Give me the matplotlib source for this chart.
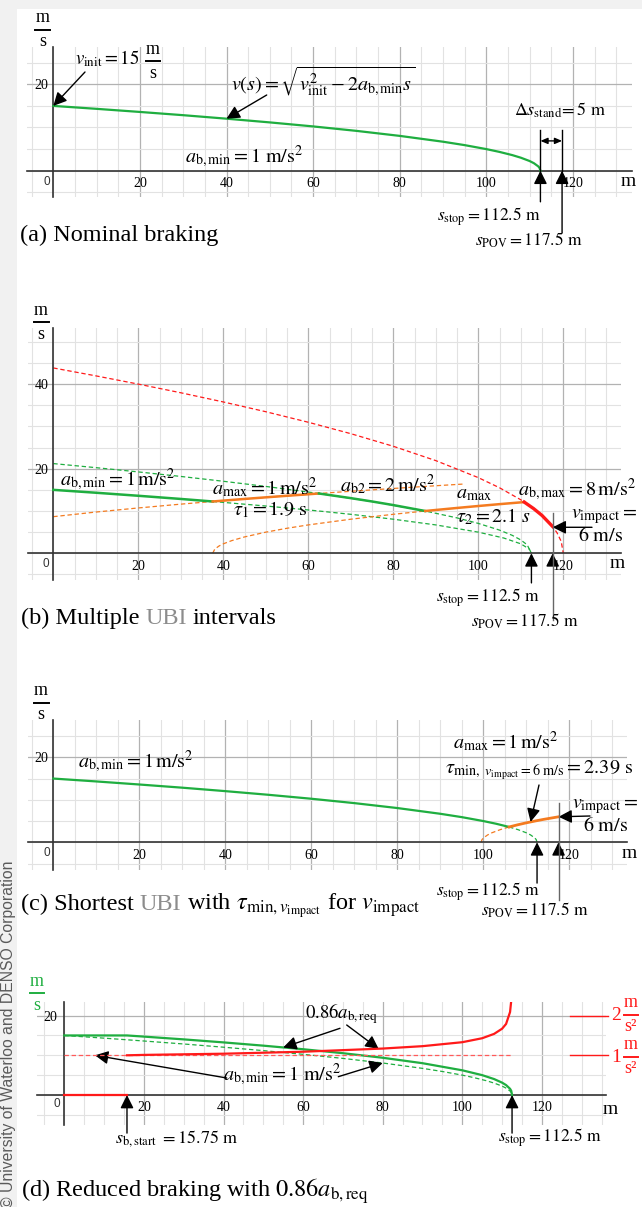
import matplotlib
matplotlib.use('Agg')
import matplotlib.pyplot as plt
from matplotlib.ticker import MultipleLocator
from matplotlib.patches import Rectangle
from matplotlib.lines import Line2D

plt.rcParams['mathtext.fontset'] = 'stix'
plt.rcParams['font.family'] = ['Liberation Serif', 'DejaVu Serif']

# ---------------- data ----------------
x_ticks = [20, 40, 60, 80, 100, 120]
x_tick_labels = ['20', '40', '60', '80', '100', '120']

# (a) nominal braking
a_s = [0, 10, 20, 30, 40, 50, 60, 70, 80, 90, 95, 100, 103, 106, 108, 110, 111, 112, 112.3, 112.5]
a_v = [15.00, 14.32, 13.60, 12.85, 12.04, 11.18, 10.25, 9.22, 8.06, 6.71, 5.92, 5.00, 4.36, 3.61, 3.00, 2.24, 1.73, 1.00, 0.63, 0.00]

# (b) multiple UBI intervals
b_green1_s = [0, 10, 20, 30, 37.5]
b_green1_v = [15.00, 14.32, 13.60, 12.85, 12.25]
b_orange1_s = [37.5, 45, 50, 55, 62.5]
b_orange1_v = [12.25, 12.85, 13.23, 13.60, 14.14]
b_green2_s = [62.5, 70, 75, 80, 87.5]
b_green2_v = [14.14, 13.04, 12.25, 11.40, 10.00]
b_orange2_s = [87.5, 95, 100, 105, 110.8]
b_orange2_v = [10.00, 10.72, 11.18, 11.62, 12.11]
b_red_s = [110.8, 113, 115, 117.5]
b_red_v = [12.11, 10.58, 8.94, 6.32]
b_red_dash_s = [0, 10, 20, 30, 40, 50, 60, 70, 80, 90, 100, 105, 110, 113, 115, 117, 118.5, 119.5, 120]
b_red_dash_v = [43.82, 41.95, 40.00, 37.95, 35.78, 33.47, 30.98, 28.28, 25.30, 21.91, 17.89, 15.49, 12.65, 10.58, 8.94, 6.93, 4.90, 2.83, 0.00]
b_green_dash_hi_s = [0, 10, 20, 30, 40, 50, 62.5, 75, 87.5, 95, 100, 105, 108, 110, 111.5, 112.5]
b_green_dash_hi_v = [21.21, 20.25, 19.24, 18.17, 17.03, 15.81, 14.14, 12.25, 10.00, 8.37, 7.07, 5.48, 4.24, 3.16, 2.00, 0.00]
b_green_dash_lo_s = [37.5, 50, 60, 70, 80, 90, 100, 106, 110, 112, 112.5]
b_green_dash_lo_v = [12.25, 11.18, 10.25, 9.22, 8.06, 6.71, 5.00, 3.61, 2.24, 1.00, 0.00]
b_orange_dash_hi_s = [0, 10, 20, 30, 37.5, 50, 62.5, 70, 80, 90, 96.5]
b_orange_dash_hi_v = [8.66, 9.75, 10.72, 11.62, 12.25, 13.23, 14.14, 14.66, 15.33, 15.97, 16.37]
b_orange_dash_lo_s = [37.5, 38, 39, 40, 42, 45, 50, 55, 60, 70, 80, 87.5]
b_orange_dash_lo_v = [0.00, 1.00, 1.73, 2.24, 3.00, 3.87, 5.00, 5.92, 6.71, 8.06, 9.22, 10.00]

# (c) shortest UBI
c_green_s = [0, 10, 20, 30, 40, 50, 60, 70, 80, 90, 95, 100, 103, 106]
c_green_v = [15.00, 14.32, 13.60, 12.85, 12.04, 11.18, 10.25, 9.22, 8.06, 6.71, 5.92, 5.00, 4.36, 3.61]
c_green_dash_s = [106, 108, 110, 111, 112, 112.3, 112.5]
c_green_dash_v = [3.61, 3.00, 2.24, 1.73, 1.00, 0.63, 0.00]
c_orange_s = [106, 108, 110, 112, 114, 116, 117.5]
c_orange_v = [3.61, 4.12, 4.58, 5.00, 5.39, 5.74, 6.00]
c_orange_dash_s = [99.5, 99.7, 100, 101, 102, 104, 106]
c_orange_dash_v = [0.00, 0.63, 1.00, 1.73, 2.24, 3.00, 3.61]

# (d) reduced braking
d_green_s = [0, 15.75, 20, 30, 40, 50, 60, 70, 80, 90, 100, 105, 108, 110, 111, 112, 112.3, 112.5]
d_green_v = [15.00, 15.00, 14.71, 14.01, 13.25, 12.43, 11.53, 10.53, 9.38, 8.01, 6.22, 5.00, 4.01, 3.11, 2.50, 1.56, 1.05, 0.00]
d_nominal_s = [0, 10, 20, 30, 40, 50, 60, 70, 80, 90, 95, 100, 103, 106, 108, 110, 111, 112, 112.3, 112.5]
d_nominal_v = [15.00, 14.32, 13.60, 12.85, 12.04, 11.18, 10.25, 9.22, 8.06, 6.71, 5.92, 5.00, 4.36, 3.61, 3.00, 2.24, 1.73, 1.00, 0.63, 0.00]
d_decel_pre_s = [0, 15.75]
d_decel_pre_a = [0.0, 0.0]
d_decel_s = [15.75, 20, 40, 60, 80, 90, 100, 105, 108, 110, 111, 112, 112.3, 112.4]
d_decel_a = [1.00, 1.01, 1.04, 1.09, 1.17, 1.23, 1.33, 1.43, 1.54, 1.67, 1.79, 2.09, 2.38, 2.62]
d_amin_s = [0, 112.5]
d_amin_a = [1.0, 1.0]

# ---------------- figure ----------------
W, H = 642, 1207
fig = plt.figure(figsize=(W / 100, H / 100), dpi=100)
fig.patch.set_facecolor('#f1f1f1')
fig.patches.append(Rectangle((16.5 / W, 0), 1 - 16.5 / W, 1 - 9 / H, transform=fig.transFigure,
                             facecolor='white', edgecolor='none', zorder=-5))

GREEN = '#1fae40'
ORANGE = '#f47b20'
RED = '#ff1a1a'
RED_L = '#ff5a5a'
GRAY_T = '#8c8c8c'
SANS = 'Liberation Sans'
MS = 14.5   # math label size
SL = 12.5   # small label size (s_stop, s_POV)
TS = 17.5   # title size
TICK = dict(fontsize=8.5, color='#333333')

ARW = dict(arrowstyle='-|>,head_length=0.5,head_width=0.25', color='black', lw=1.0,
           shrinkA=0, shrinkB=0, mutation_scale=16)


def F(x, y):
    return (x / W, 1 - y / H)


def txt(x, y, s, size=MS, ha='left', va='center', color='black', **kw):
    return fig.text(x / W, 1 - y / H, s, fontsize=size, ha=ha, va=va, color=color, **kw)


def frac(cx, ybar, num, den, width, color='black', size=13):
    """Stacked unit fraction: numerator / bar / denominator, positioned in pixels."""
    txt(cx, ybar - 7.5, num, size=size, ha='center', va='baseline', color=color)
    txt(cx, ybar + 16.5, den, size=size, ha='center', va='baseline', color=color)
    fig.add_artist(Line2D([(cx - width / 2) / W, (cx + width / 2) / W], [1 - ybar / H, 1 - ybar / H],
                          transform=fig.transFigure, color=color, lw=1.4))


def make_axes(x0, y0, sx, sy, xlim, ylim, yticks, ypad, xpad=4.5):
    left = x0 + xlim[0] * sx
    right = x0 + xlim[1] * sx
    top = y0 - ylim[1] * sy
    bottom = y0 - ylim[0] * sy
    ax = fig.add_axes([left / W, 1 - bottom / H, (right - left) / W, (bottom - top) / H])
    ax.set_facecolor('none')
    ax.set_xlim(*xlim)
    ax.set_ylim(*ylim)
    ax.set_xticks(x_ticks)
    ax.set_xticklabels(x_tick_labels)
    ax.set_yticks(yticks)
    ax.set_yticklabels([str(t) for t in yticks])
    for lbl in ax.get_xticklabels() + ax.get_yticklabels():
        lbl.set_fontfamily(SANS)
        lbl.set_fontsize(TICK['fontsize'])
        lbl.set_color(TICK['color'])
    ax.xaxis.set_minor_locator(MultipleLocator(5))
    ax.yaxis.set_minor_locator(MultipleLocator(5))
    ax.grid(which='minor', color='#e2e2e2', lw=0.8)
    ax.grid(which='major', color='#b2b2b2', lw=0.9)
    ax.set_axisbelow(True)
    ax.tick_params(which='both', length=0)
    ax.tick_params(axis='x', pad=xpad)
    ax.tick_params(axis='y', pad=ypad)
    for sp in ['top', 'right']:
        ax.spines[sp].set_visible(False)
    for sp in ['bottom', 'left']:
        ax.spines[sp].set_position(('data', 0))
        ax.spines[sp].set_color('#333333')
        ax.spines[sp].set_linewidth(1.2)
    return ax


def arrow_px(ax, tail_px, tip_data, **kw):
    props = dict(ARW)
    props.update(kw)
    ax.annotate('', xy=tip_data, xycoords='data', xytext=F(*tail_px), textcoords='figure fraction',
                arrowprops=props, annotation_clip=False)


def arrow_data(ax, tail, tip, **kw):
    props = dict(ARW)
    props.update(kw)
    ax.annotate('', xy=tip, xycoords='data', xytext=tail, textcoords='data',
                arrowprops=props, annotation_clip=False)


def chain(ax, x, y, parts, size=TS):
    prev = None
    for s, col in parts:
        if prev is None:
            prev = ax.annotate(s, xy=F(x, y), xycoords='figure fraction', ha='left', va='baseline',
                               fontsize=size, color=col, annotation_clip=False)
        else:
            prev = ax.annotate(s, xy=(1, 1 - y / H), xycoords=(prev, 'figure fraction'),
                               xytext=(4.3, 0), textcoords='offset points', ha='left', va='baseline',
                               fontsize=size, color=col, annotation_clip=False)
    return prev


def zero_label(x, y):
    txt(x, y, '0', size=TICK['fontsize'], ha='center', family=SANS, color=TICK['color'])


DASH = (0, (3.5, 2.2))

# ================= (a) =================
axa = make_axes(53.3, 170.7, 4.33, 4.32, (-6.1, 133.6), (-6.2, 28.7), [20], 3.5)
axa.plot(a_s, a_v, color=GREEN, lw=1.6, zorder=3)
frac(42.5, 30, 'm', 's', 15)
zero_label(46.7, 181.7)
txt(628, 181.5, 'm', size=14, ha='center')
txt(75, 58.5, r'$v_{\mathrm{init}} = 15$', size=13.5)
frac(153, 61, 'm', 's', 14)
arrow_px(axa, (85, 72), (0, 15))
txt(231, 81, r'$v(s) = \sqrt{v_{\mathrm{init}}^2 - 2a_{\mathrm{b,min}}s}$')
arrow_px(axa, (266.7, 95), (40, 12.04))
txt(185, 156.7, r'$a_{\mathrm{b,min}} = 1\ \mathrm{m/s^2}$')
txt(514, 110, r'$\Delta s_{\mathrm{stand}}\!= 5\ \mathrm{m}$', size=13)
arrow_data(axa, (112.5, -7.2), (112.5, 0))
arrow_data(axa, (117.5, -14.4), (117.5, 0))
axa.plot([112.5, 112.5], [0, 9.4], color='black', lw=1.0, clip_on=False, zorder=4)
axa.plot([117.5, 117.5], [0, 9.4], color='black', lw=1.0, clip_on=False, zorder=4)
arrow_data(axa, (112.5, 6.9), (117.5, 6.9),
           arrowstyle='<|-|>,head_length=0.35,head_width=0.15', mutation_scale=12)
txt(437, 216.7, r'$s_{\mathrm{stop}} = 112.5\ \mathrm{m}$', size=SL)
txt(475, 240, r'$s_{\mathrm{POV}} = 117.5\ \mathrm{m}$', size=SL)
chain(axa, 20.5, 240.5, [('(a) Nominal braking', 'black')])

# ================= (b) =================
axb = make_axes(53.3, 553.3, 4.25, 4.23, (-6.0, 133.6), (-6.3, 53.2), [20, 40], 3.5)
axb.plot(b_red_dash_s, b_red_dash_v, color=RED, lw=0.9, ls=DASH, zorder=2)
axb.plot(b_green_dash_hi_s, b_green_dash_hi_v, color=GREEN, lw=0.9, ls=DASH, zorder=2)
axb.plot(b_green_dash_lo_s, b_green_dash_lo_v, color=GREEN, lw=0.9, ls=DASH, zorder=2)
axb.plot(b_orange_dash_hi_s, b_orange_dash_hi_v, color=ORANGE, lw=0.9, ls=DASH, zorder=2)
axb.plot(b_orange_dash_lo_s, b_orange_dash_lo_v, color=ORANGE, lw=0.9, ls=DASH, zorder=2)
axb.plot(b_green1_s, b_green1_v, color=GREEN, lw=1.8, zorder=3)
axb.plot(b_orange1_s, b_orange1_v, color=ORANGE, lw=1.8, zorder=3)
axb.plot(b_green2_s, b_green2_v, color=GREEN, lw=1.8, zorder=3)
axb.plot(b_orange2_s, b_orange2_v, color=ORANGE, lw=1.8, zorder=3)
axb.plot(b_red_s, b_red_v, color=RED, lw=2.4, zorder=3)
frac(41, 322.3, 'm', 's', 15)
zero_label(46, 564)
txt(617, 564, 'm', size=14, ha='center')
txt(60, 480, r'$a_{\mathrm{b,min}} = 1\,\mathrm{m/s^2}$')
txt(212, 488, r'$a_{\max} = 1\,\mathrm{m/s^2}$')
txt(233, 510, r'$\tau_1 = 1.9\ \mathrm{s}$')
txt(340, 485, r'$a_{\mathrm{b2}} = 2\,\mathrm{m/s^2}$')
txt(456, 494, r'$a_{\max}$')
txt(456, 516.7, r'$\tau_2 = 2.1\ s$')
txt(518, 490, r'$a_{\mathrm{b,max}} = 8\,\mathrm{m/s^2}$')
txt(637, 516.7, r'$v_{\mathrm{impact}} =$', ha='right')
txt(623, 536.7, r'$6\ \mathrm{m/s}$', ha='right')
arrow_px(axb, (592, 527.3), (117.5, 6.15))
arrow_data(axb, (112.5, -7.0), (112.5, 0))
axb.plot([117.5, 117.5], [-15.8, 9.5], color='#666666', lw=1.0, clip_on=False, zorder=4)
arrow_data(axb, (117.5, -2.5), (117.5, 0))
txt(436, 598, r'$s_{\mathrm{stop}} = 112.5\ \mathrm{m}$', size=SL)
txt(471, 621.7, r'$s_{\mathrm{POV}} = 117.5\ \mathrm{m}$', size=SL)
chain(axb, 21, 624, [('(b) Multiple', 'black'), ('UBI', GRAY_T), ('intervals', 'black')])

# ================= (c) =================
axc = make_axes(53.3, 842.3, 4.3, 4.25, (-6.0, 133.4), (-6.5, 28.7), [20], 3.5)
axc.plot(c_green_dash_s, c_green_dash_v, color=GREEN, lw=0.9, ls=DASH, zorder=2)
axc.plot(c_orange_dash_s, c_orange_dash_v, color=ORANGE, lw=0.9, ls=DASH, zorder=2)
axc.plot(c_green_s, c_green_v, color=GREEN, lw=1.6, zorder=3)
axc.plot(c_orange_s, c_orange_v, color=ORANGE, lw=2.0, zorder=3)
frac(41, 702.7, 'm', 's', 15)
zero_label(47, 852.7)
txt(629, 853, 'm', size=14, ha='center')
txt(78, 761.7, r'$a_{\mathrm{b,min}} = 1\,\mathrm{m/s^2}$')
txt(453, 741.7, r'$a_{\max} = 1\,\mathrm{m/s^2}$')
txt(445, 770, r'$\tau_{\min,\ v_{\mathrm{impact}}=6\ \mathrm{m/s}} = 2.39\ \mathrm{s}$', size=14.6)
arrow_px(axc, (539, 785), (111, 4.8))
txt(638, 806.7, r'$v_{\mathrm{impact}} =$', ha='right')
txt(628, 826.7, r'$6\ \mathrm{m/s}$', ha='right')
arrow_px(axc, (590, 816), (117.5, 6.0))
arrow_data(axc, (112.5, -9.6), (112.5, 0))
axc.plot([117.5, 117.5], [-13.6, 9.2], color='#666666', lw=1.0, clip_on=False, zorder=4)
arrow_data(axc, (117.5, -2.5), (117.5, 0))
txt(436, 891.7, r'$s_{\mathrm{stop}} = 112.5\ \mathrm{m}$', size=SL)
txt(481, 910.7, r'$s_{\mathrm{POV}} = 117.5\ \mathrm{m}$', size=SL)
chain(axc, 21, 910, [('(c) Shortest', 'black'), ('UBI', GRAY_T),
                     (r'with $\tau_{\min,v_{\mathrm{impact}}}$ for $v_{\mathrm{impact}}$', 'black')])

# ================= (d) =================
axd = make_axes(64.3, 1095, 3.98, 3.97, (-6.9, 136.0), (-7.6, 23.5), [20], 5.0)
axd.plot(d_nominal_s, d_nominal_v, color=GREEN, lw=0.9, ls=DASH, zorder=2)
axd.plot(d_green_s, d_green_v, color=GREEN, lw=1.6, zorder=3)
axd2 = axd.twinx()
axd2.set_ylim(-0.76, 2.35)
axd2.set_axis_off()
axd2.plot(d_amin_s, d_amin_a, color=RED_L, lw=0.9, ls=DASH)
axd2.plot(d_decel_pre_s, d_decel_pre_a, color=RED, lw=1.6)
axd2.plot(d_decel_s, d_decel_a, color=RED, lw=1.6)
axd2.plot([127.1, 136.6], [2, 2], color=RED, lw=1.0, clip_on=False)
axd2.plot([127.1, 136.6], [1, 1], color=RED, lw=1.0, clip_on=False)
txt(616.5, 1020.5, '2', size=14, ha='center', va='baseline', color=RED)
frac(630.5, 1014.5, 'm', 's\u00b2', 14, color=RED)
txt(616.5, 1062.5, '1', size=14, ha='center', va='baseline', color=RED)
frac(630.5, 1056.5, 'm', 's\u00b2', 14, color=RED)
frac(37, 993.3, 'm', 's', 14, color=GREEN)
zero_label(57.3, 1104.3)
txt(610, 1110, 'm', size=14, ha='center')
txt(305, 1013.3, r'$0.86a_{\mathrm{b,req}}$', size=13.5)
arrow_px(axd, (340, 1028.3), (55, 11.98))
arrow_px(axd, (346.7, 1025), (79, 11.6))
txt(223, 1075, r'$a_{\mathrm{b,min}} = 1\ \mathrm{m/s^2}$')
arrow_px(axd, (226.7, 1078), (7.7, 10.0))
arrow_px(axd, (338.3, 1076.7), (80, 8.06))
arrow_data(axd, (15.75, -9.6), (15.75, 0))
arrow_data(axd, (112.5, -9.6), (112.5, 0))
txt(114.8, 1138.3, r'$s_{\mathrm{b,start}}\ = 15.75\ \mathrm{m}$', size=13)
txt(498, 1138, r'$s_{\mathrm{stop}} = 112.5\ \mathrm{m}$', size=SL)
chain(axd, 21, 1197, [(r'(d) Reduced braking with $0.86a_{\mathrm{b,req}}$', 'black')])

# copyright note on left edge
fig.text(13.5 / W, 1 - 1208 / H, '\u00a9 University of Waterloo and DENSO Corporation',
         rotation=90, rotation_mode='anchor', ha='left', va='baseline',
         fontsize=11.3, family=SANS, color='#5a5a5a')

fig.savefig('out.png', dpi=100)
